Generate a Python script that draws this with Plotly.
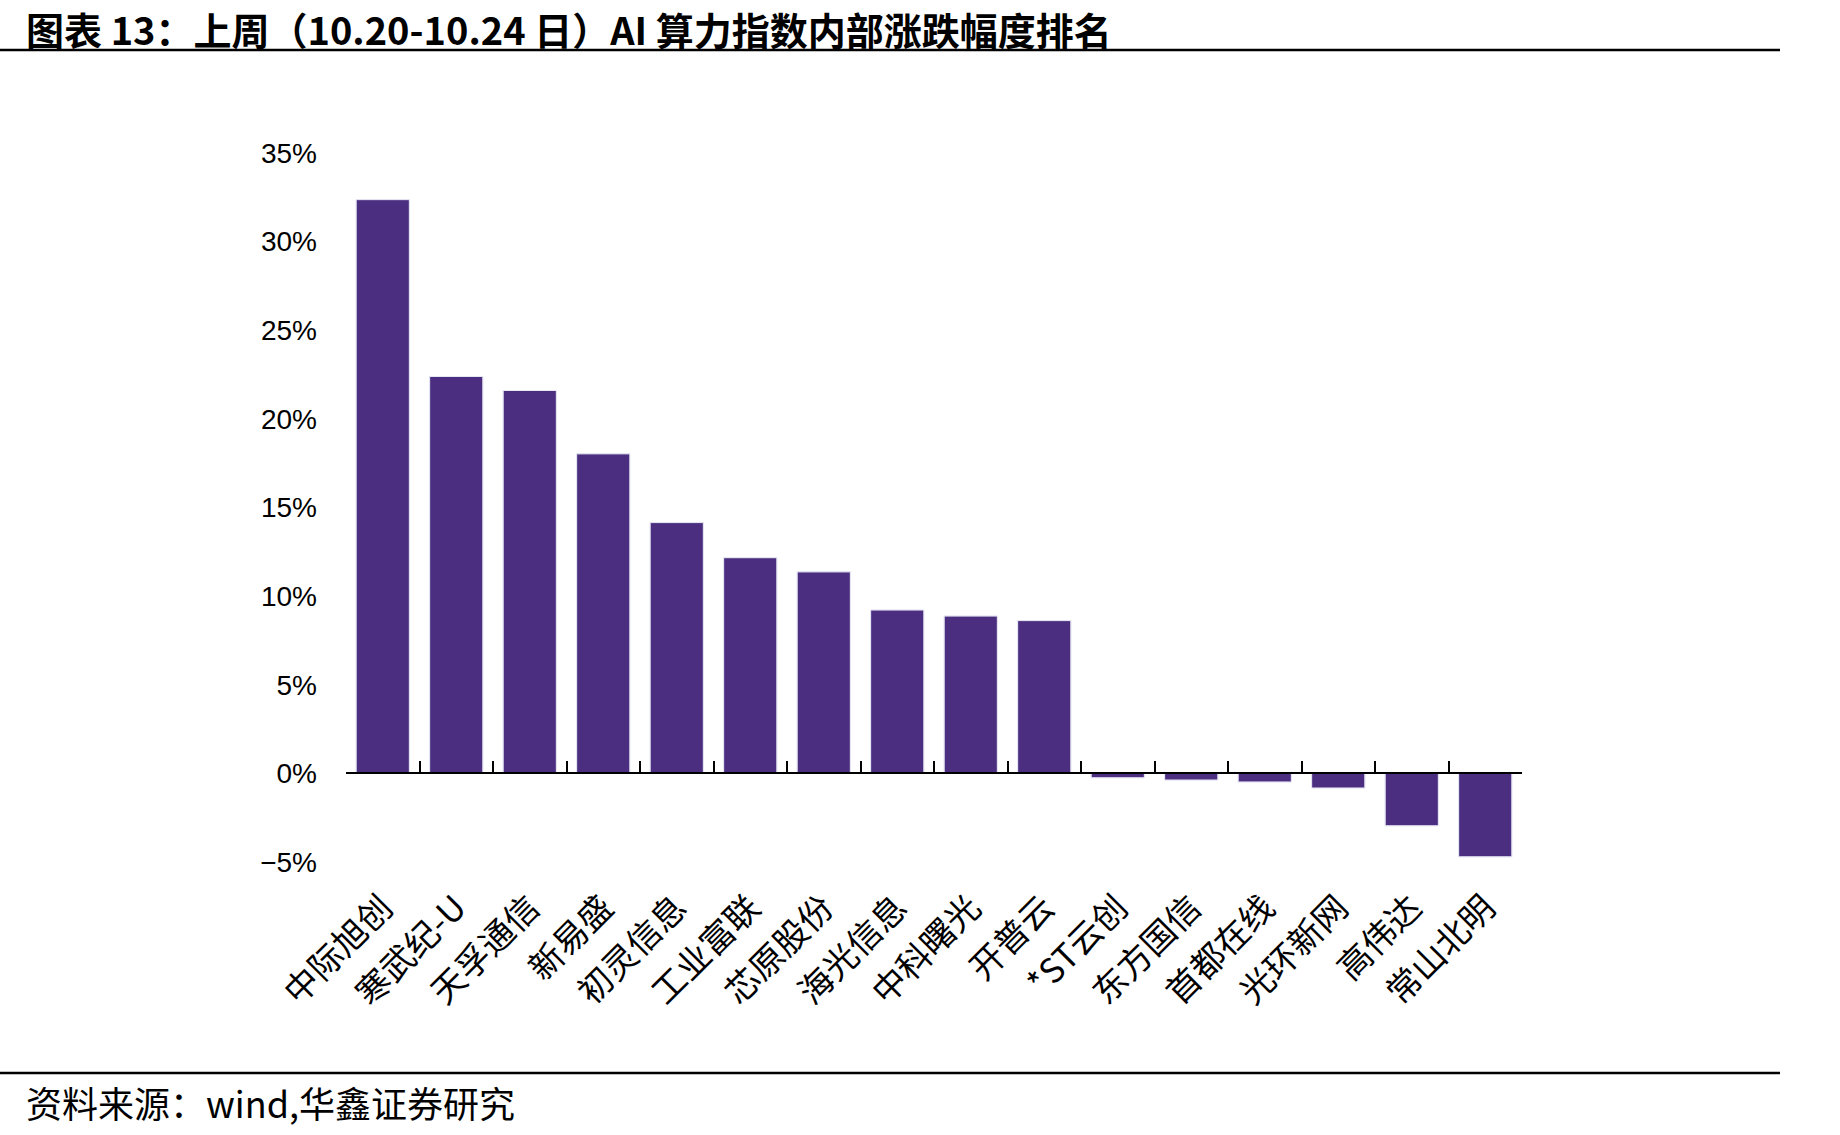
import plotly.graph_objects as go

categories = ["中际旭创", "寒武纪-U", "天孚通信", "新易盛", "初灵信息", "工业富联", "芯原股份",
              "海光信息", "中科曙光", "开普云", "*ST云创", "东方国信", "首都在线", "光环新网",
              "高伟达", "常山北明"]
changes_pct = [32.37, 22.39, 21.6, 18.03, 14.15, 12.17, 11.37, 9.22, 8.88, 8.62,
               -0.25, -0.38, -0.49, -0.83, -2.96, -4.71]
y_ticks = [-5, 0, 5, 10, 15, 20, 25, 30, 35]
y_tick_labels = ["\u22125%", "0%", "5%", "10%", "15%", "20%", "25%", "30%", "35%"]

title_text = "图表 13：上周（10.20-10.24 日）AI 算力指数内部涨跌幅度排名"
source_text = "资料来源：wind,华鑫证券研究"

W, H = 1840, 1135
L, R, T, B = 346, 318, 153, 273
PW, PH = W - L - R, H - T - B


def px_x(p):
    return (p - L) / PW


def px_y(p):
    return (H - B - p) / PH


BAR_COLOR = "#4B2E80"
CJK = "Noto Sans CJK SC"

fig = go.Figure()
fig.add_trace(go.Bar(
    x=categories, y=changes_pct,
    marker=dict(color=BAR_COLOR, line=dict(color="#E6E1EF", width=1)),
    xaxis="x", yaxis="y", showlegend=False, hoverinfo="x+y",
))
# invisible copy to drive the zero-level category axis with boundary ticks
fig.add_trace(go.Bar(
    x=categories, y=changes_pct,
    marker=dict(color="rgba(0,0,0,0)"),
    xaxis="x2", yaxis="y", showlegend=False, hoverinfo="skip",
))

fig.update_layout(
    width=W, height=H,
    margin=dict(l=L, r=R, t=T, b=B, pad=0),
    paper_bgcolor="white", plot_bgcolor="white",
    bargap=0.275,
    xaxis=dict(
        type="category", categoryorder="array", categoryarray=categories,
        showline=False, showgrid=False, zeroline=False, ticks="",
        tickangle=-45, ticklabelstandoff=18,
        tickfont=dict(family=CJK, size=34, color="#000000"),
        domain=[0, 1],
    ),
    xaxis2=dict(
        type="category", categoryorder="array", categoryarray=categories,
        overlaying="x", anchor="free", position=(0 - y_ticks[0]) / (y_ticks[-1] - y_ticks[0]),
        side="bottom", showline=True, linecolor="#000000", linewidth=2,
        ticks="inside", ticklen=11, tickwidth=1.5, tickcolor="#000000",
        tickson="boundaries", showticklabels=False, showgrid=False, zeroline=False,
        matches="x",
    ),
    yaxis=dict(
        range=[y_ticks[0], y_ticks[-1]], tickmode="array",
        tickvals=y_ticks, ticktext=y_tick_labels,
        showline=False, showgrid=False, zeroline=False, ticks="",
        ticklabelstandoff=28,
        tickfont=dict(family="Liberation Sans, Arial", size=28, color="#000000"),
    ),
)

shapes = [
    dict(type="line", xref="paper", yref="paper",
         x0=px_x(0), x1=px_x(1780), y0=px_y(50), y1=px_y(50),
         line=dict(color="#000000", width=2.5)),
    dict(type="line", xref="paper", yref="paper",
         x0=px_x(0), x1=px_x(1780), y0=px_y(1073), y1=px_y(1073),
         line=dict(color="#000000", width=2.5)),
]
fig.update_layout(shapes=shapes)

fig.add_annotation(
    text="<b>" + title_text + "</b>", xref="paper", yref="paper",
    x=px_x(24), y=px_y(28), xanchor="left", yanchor="middle", showarrow=False,
    font=dict(family=CJK, size=38, color="#000000"),
)
fig.add_annotation(
    text=source_text, xref="paper", yref="paper",
    x=px_x(24), y=px_y(1102), xanchor="left", yanchor="middle", showarrow=False,
    font=dict(family=CJK, size=36, color="#000000"),
)

fig.write_html("out.html")
